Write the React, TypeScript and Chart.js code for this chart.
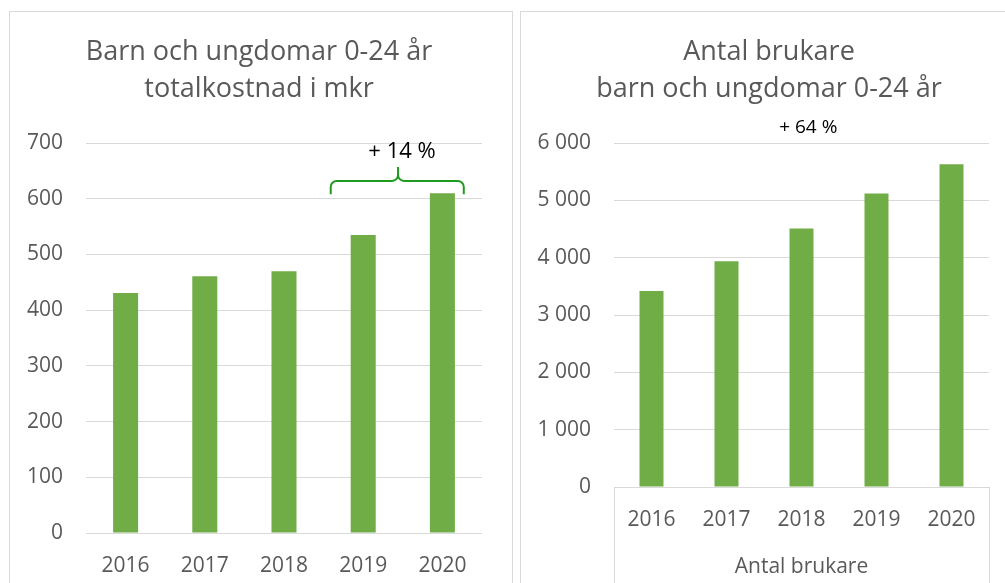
import React, { useEffect, useRef } from "react";
import { Chart, registerables } from "chart.js";

Chart.register(...registerables);

const years = ["2016", "2017", "2018", "2019", "2020"];
const kostnadMkr = [431, 461, 470, 535, 610];
const antalBrukare = [3420, 3940, 4510, 5120, 5630];

const leftTitle = ["Barn och ungdomar 0-24 år", "totalkostnad i mkr"];
const rightTitle = ["Antal brukare", "barn och ungdomar 0-24 år"];
const rightAxisTitle = "Antal brukare";

const leftNote = "+ 14 %";
const rightNote = "+ 64 %";
// annotation anchors in data space: [categoryIndex, value]
const leftNoteAt = [3.49, 673];
const rightNoteAt = [2.09, 6175];
// bracket: [startIndex, centerIndex, endIndex], [endValue, lineValue, tipValue]
const bracketX = [2.59, 3.44, 4.27];
const bracketY = [608, 632, 657];

const FONT = "'Open Sans', 'DejaVu Sans', sans-serif";
const TEXT = "#595959";
const GRID = "#d9d9d9";
const BAR = "#70ad47";

const fmt = (v: number) => String(v).replace(/\B(?=(\d{3})+(?!\d))/g, " ");

function notePlugin(text: string, at: number[], size: number, bracket: boolean) {
  return {
    id: "note",
    afterDatasetsDraw(chart: any) {
      const ctx = chart.ctx;
      const xs = chart.scales.x;
      const ys = chart.scales.y;
      ctx.save();
      if (bracket) {
        const x1 = xs.getPixelForValue(bracketX[0]);
        const xc = xs.getPixelForValue(bracketX[1]);
        const x2 = xs.getPixelForValue(bracketX[2]);
        const yEnd = ys.getPixelForValue(bracketY[0]);
        const yLine = ys.getPixelForValue(bracketY[1]);
        const yTip = ys.getPixelForValue(bracketY[2]);
        const r = 6;
        ctx.strokeStyle = "#1f9a1f";
        ctx.lineWidth = 2;
        ctx.beginPath();
        ctx.moveTo(x1, yEnd);
        ctx.arcTo(x1, yLine, x1 + r, yLine, r);
        ctx.arcTo(xc, yLine, xc, yLine - r, r);
        ctx.lineTo(xc, yTip);
        ctx.moveTo(x2, yEnd);
        ctx.arcTo(x2, yLine, x2 - r, yLine, r);
        ctx.arcTo(xc, yLine, xc, yLine - r, r);
        ctx.stroke();
      }
      ctx.fillStyle = "#000000";
      ctx.font = `${size}px ${FONT}`;
      ctx.textAlign = "center";
      ctx.textBaseline = "alphabetic";
      ctx.fillText(text, xs.getPixelForValue(at[0]), ys.getPixelForValue(at[1]));
      ctx.restore();
    },
  };
}

function titleCenterPlugin(center: number) {
  return {
    id: "titleCenter",
    afterLayout(chart: any) {
      const t = chart.titleBlock;
      if (t) {
        t.left = 0;
        t.right = center * 2;
        t.width = center * 2;
      }
    },
  };
}

const boxPlugin = {
  id: "axisBox",
  afterDraw(chart: any) {
    const { ctx, chartArea, height } = chart;
    ctx.save();
    ctx.strokeStyle = GRID;
    ctx.lineWidth = 1;
    ctx.beginPath();
    ctx.moveTo(Math.round(chartArea.left) + 0.5, chartArea.bottom);
    ctx.lineTo(Math.round(chartArea.left) + 0.5, height);
    ctx.moveTo(Math.round(chartArea.right) + 0.5, chartArea.bottom);
    ctx.lineTo(Math.round(chartArea.right) + 0.5, height);
    ctx.stroke();
    ctx.restore();
  },
};

function makeConfig(opts: {
  title: string[];
  data: number[];
  max: number;
  step: number;
  yWidth: number;
  xHeight: number;
  barPct: number;
  axisTitle?: string;
  tickFmt: (v: number) => string;
  plugins: any[];
}): any {
  return {
    type: "bar",
    data: {
      labels: years,
      datasets: [
        {
          data: opts.data,
          backgroundColor: BAR,
          barPercentage: opts.barPct,
          categoryPercentage: 1,
        },
      ],
    },
    plugins: opts.plugins,
    options: {
      responsive: false,
      animation: false,
      layout: { padding: { left: 0, right: 29, top: 0, bottom: 0 } },
      plugins: {
        legend: { display: false },
        tooltip: { enabled: false },
        title: {
          display: true,
          text: opts.title,
          color: TEXT,
          font: { family: FONT, size: 27, weight: "normal", lineHeight: 1.36 },
          padding: { top: 22, bottom: 35.6 },
        },
      },
      scales: {
        x: {
          grid: { display: false, drawTicks: false },
          border: { display: !!opts.axisTitle, color: GRID },
          ticks: {
            color: TEXT,
            font: { family: FONT, size: 21 },
            padding: 20,
            maxRotation: 0,
          },
          title: opts.axisTitle
            ? {
                display: true,
                text: opts.axisTitle,
                color: TEXT,
                font: { family: FONT, size: 21 },
                padding: { top: 0, bottom: 3.4 },
              }
            : { display: false },
          afterFit: (s: any) => {
            s.height = opts.xHeight;
          },
        },
        y: {
          min: 0,
          max: opts.max,
          grid: { color: GRID, lineWidth: 1, drawTicks: false },
          border: { display: false },
          ticks: {
            stepSize: opts.step,
            color: TEXT,
            font: { family: FONT, size: 21 },
            padding: 23,
            callback: (v: any) => opts.tickFmt(Number(v)),
          },
          afterFit: (s: any) => {
            s.width = opts.yWidth;
          },
        },
      },
    },
  };
}

export default function App() {
  const leftRef = useRef<HTMLCanvasElement>(null);
  const rightRef = useRef<HTMLCanvasElement>(null);

  useEffect(() => {
    const c1 = new Chart(
      leftRef.current as HTMLCanvasElement,
      makeConfig({
        title: leftTitle,
        data: kostnadMkr,
        max: 700,
        step: 100,
        yWidth: 76,
        xHeight: 50,
        barPct: 0.316,
        tickFmt: (v) => String(v),
        plugins: [notePlugin(leftNote, leftNoteAt, 22, true), titleCenterPlugin(249)],
      })
    );
    const c2 = new Chart(
      rightRef.current as HTMLCanvasElement,
      makeConfig({
        title: rightTitle,
        data: antalBrukare,
        max: 6000,
        step: 1000,
        yWidth: 93,
        xHeight: 96,
        barPct: 0.32,
        axisTitle: rightAxisTitle,
        tickFmt: fmt,
        plugins: [notePlugin(rightNote, rightNoteAt, 19, false), boxPlugin, titleCenterPlugin(248)],
      })
    );
    return () => {
      c1.destroy();
      c2.destroy();
    };
  }, []);

  const panel: React.CSSProperties = {
    position: "absolute",
    top: 11,
    height: 620,
    boxSizing: "border-box",
    border: `1px solid ${GRID}`,
    background: "#fff",
  };

  return (
    <div
      style={{
        position: "fixed",
        left: 0,
        top: 0,
        width: 1005,
        height: 583,
        overflow: "hidden",
        background: "#fff",
      }}
    >
      <div style={{ ...panel, left: 9, width: 504 }} />
      <div style={{ ...panel, left: 520, width: 500 }} />
      <canvas
        ref={leftRef}
        width={501}
        height={571}
        style={{ position: "absolute", left: 10, top: 12, width: 501, height: 571 }}
      />
      <canvas
        ref={rightRef}
        width={497}
        height={571}
        style={{ position: "absolute", left: 521, top: 12, width: 497, height: 571 }}
      />
    </div>
  );
}
